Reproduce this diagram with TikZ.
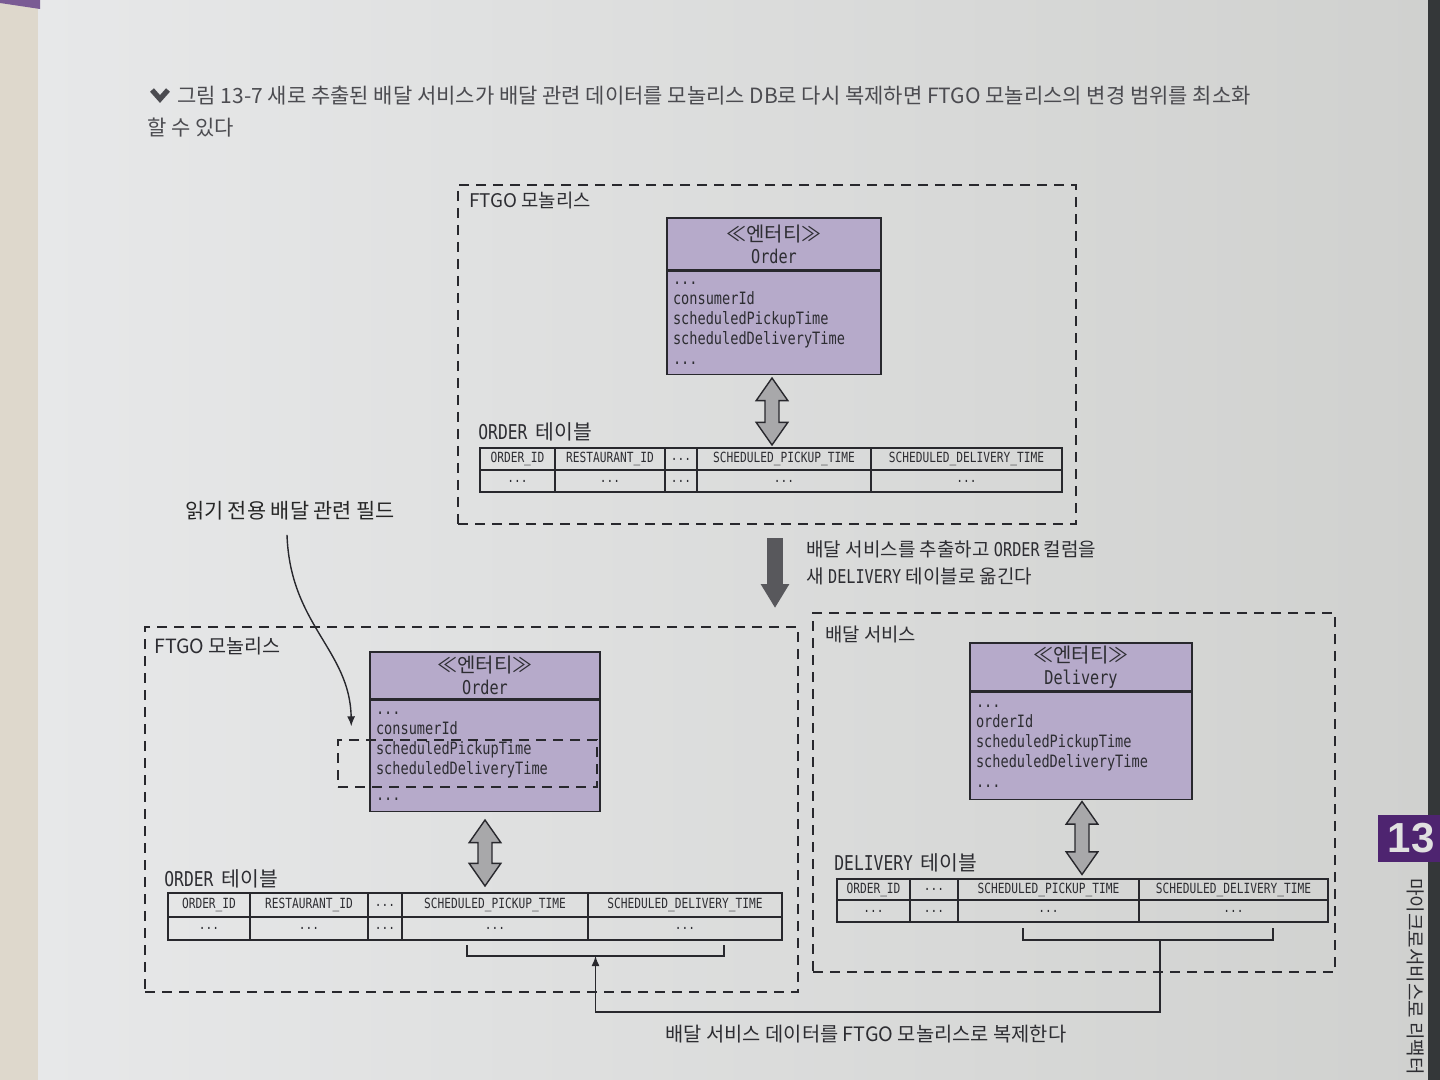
\documentclass[tikz,border=0pt]{standalone}
\usepackage{fontspec}
\setmainfont{Noto Sans CJK KR}
\newfontfamily\monofont[FakeStretch=0.8]{DejaVu Sans Mono}
\newfontfamily\tabfont{Liberation Sans}
\usetikzlibrary{arrows.meta,shapes.arrows,calc}

\newcommand{\tdots}{...}

\definecolor{pageL}{RGB}{231,232,233}
\definecolor{pageR}{RGB}{208,209,207}
\definecolor{edgeL}{RGB}{222,216,204}
\definecolor{edgeR}{RGB}{52,55,57}
\definecolor{linec}{RGB}{40,40,45}
\definecolor{txtc}{RGB}{45,45,50}
\definecolor{captc}{RGB}{75,75,80}
\definecolor{clsfill}{RGB}{182,170,202}
\definecolor{arrfill}{RGB}{168,168,170}
\definecolor{arrdark}{RGB}{88,88,92}
\definecolor{tabpurple}{RGB}{78,36,112}

\tikzset{
  monobox/.style={draw=linec, line width=0.7pt, dash pattern=on 5pt off 3.5pt, inner sep=0pt},
  clshd/.style={draw=linec, fill=clsfill, line width=0.8pt, align=center, inner sep=0pt, text=txtc},
  clsat/.style={draw=linec, fill=clsfill, line width=0.8pt, align=left, inner xsep=3pt, inner ysep=0pt,
    text=txtc, font=\monofont\fontsize{8.5}{10}\selectfont},
  colhd/.style={draw=linec, line width=0.7pt, inner sep=0pt, text=txtc,
    font=\monofont\fontsize{7}{8}\selectfont},
  lbl/.style={text=txtc, inner sep=0pt, font=\fontsize{9.4}{11}\selectfont},
  tlbl/.style={text=txtc, inner sep=0pt, anchor=west, font=\fontsize{10.2}{12}\selectfont},
  capt/.style={text=captc, inner sep=0pt, font=\fontsize{10.5}{12}\selectfont},
  dblarr/.style={double arrow, draw=linec, fill=arrfill, line width=0.7pt, rotate=90, inner sep=0pt,
    double arrow head extend=4.4pt, double arrow tip angle=70, minimum height=#1},
  conn/.style={draw=linec, line width=0.7pt}
}

\begin{document}
\begin{tikzpicture}[x=0.5pt, y=-0.5pt]
  \useasboundingbox (0,0) rectangle (1440,1080);
  % 背景
  \shade[left color=pageL, right color=pageR] (38,0) rectangle (1428,1080);
  \fill[edgeL] (0,0) rectangle (38,1080);
  \fill[tabpurple!75] (0,0) -- (40,0) -- (40,9) -- (0,3) -- cycle;
  \fill[edgeR] (1428,0) rectangle (1440,1080);

  % キャプション
  \draw[captc, line width=2.6pt] (152,90) -- (160,99) -- (168,90);
  \node[capt, anchor=west] (cap1) at (177,96) {그림 13-7 새로 추출된 배달 서비스가 배달 관련 데이터를 모놀리스 DB로 다시 복제하면 FTGO 모놀리스의 변경 범위를 최소화};
  \node[capt, anchor=west] (cap2) at (147,128) {할 수 있다};

  % 上の FTGO モノリス
  \node[monobox, minimum width=309pt, minimum height=169.5pt] (monoA) at (767,354.5) {};
  \node[lbl, anchor=west] (lblA) at (469,200) {FTGO 모놀리스};
  \node[clshd, minimum width=107pt, minimum height=26pt] (hdA) at (774,244)
    {≪엔터티≫\\[-1pt]{\monofont\fontsize{9.5}{11}\selectfont Order}};
  \node[clsat, anchor=north, text width=101pt, minimum height=51.5pt] (atA) at (hdA.south)
    {...\\consumerId\\scheduledPickupTime\\scheduledDeliveryTime\\...};
  \node[dblarr=33.5pt] (daA) at (772,411.5) {\rule{0pt}{6.3pt}};
  \node[tlbl] (tlA) at (478,432) {{\monofont ORDER}\, 테이블};
  \foreach \a/\b/\lab [count=\i] in {480/555/ORDER\_ID, 555/665/RESTAURANT\_ID, 665/697/\tdots, 697/871/SCHEDULED\_PICKUP\_TIME, 871/1062/SCHEDULED\_DELIVERY\_TIME} {
    \node[colhd, minimum width={(\b-\a)*0.5pt}, minimum height=11pt] (tA-h\i) at ({(\a+\b)/2},459) {\lab};
    \node[colhd, minimum width={(\b-\a)*0.5pt}, minimum height=11pt] (tA-b\i) at ({(\a+\b)/2},481) {\tdots};
  }

  % 下向きの矢印
  \coordinate (dnA) at (775,538);
  \coordinate (dnB) at (775,608);
  \draw[arrdark, line width=8pt, -{Triangle[length=12pt, width=13.5pt]}] (dnA) -- (dnB);
  \node[lbl, anchor=west, align=left, font=\fontsize{9.5}{13.5}\selectfont] (mvtxt) at (806,563)
    {배달 서비스를 추출하고 {\monofont ORDER} 컬럼을\\새 {\monofont DELIVERY} 테이블로 옮긴다};

  % 下の FTGO モノリス
  \node[monobox, minimum width=326.5pt, minimum height=182.5pt] (monoB) at (471.5,809.5) {};
  \node[lbl, anchor=west, font=\fontsize{9.8}{11}\selectfont] (lblB) at (154,646) {FTGO 모놀리스};
  \node[clshd, minimum width=115pt, minimum height=23.5pt] (hdB) at (485,675.5)
    {≪엔터티≫\\[-1pt]{\monofont\fontsize{9.5}{11}\selectfont Order}};
  \node[clsat, anchor=north, text width=109pt, minimum height=55.5pt] (atB) at (hdB.south)
    {...\\consumerId\\scheduledPickupTime\\scheduledDeliveryTime\\[3pt]...};
  \node[monobox, minimum width=129.5pt, minimum height=23.5pt] (rof) at (467.5,763.5) {};
  \node[dblarr=33pt] (daB) at (485,853) {\rule{0pt}{6.3pt}};
  \node[tlbl] (tlB) at (164,879) {{\monofont ORDER}\, 테이블};
  \foreach \a/\b/\lab [count=\i] in {168/250/ORDER\_ID, 250/368/RESTAURANT\_ID, 368/402/\tdots, 402/588/SCHEDULED\_PICKUP\_TIME, 588/782/SCHEDULED\_DELIVERY\_TIME} {
    \node[colhd, minimum width={(\b-\a)*0.5pt}, minimum height=12pt] (tB-h\i) at ({(\a+\b)/2},905) {\lab};
    \node[colhd, minimum width={(\b-\a)*0.5pt}, minimum height=11.5pt] (tB-b\i) at ({(\a+\b)/2},928.5) {\tdots};
  }

  % 配達サービス
  \node[monobox, minimum width=261pt, minimum height=179.5pt] (svcC) at (1074,792.5) {};
  \node[lbl, anchor=west] (lblC) at (825,634) {배달 서비스};
  \node[clshd, minimum width=111pt, minimum height=24pt] (hdC) at (1081,667)
    {≪엔터티≫\\[-1pt]{\monofont\fontsize{9.5}{11}\selectfont Delivery}};
  \node[clsat, anchor=north, text width=105pt, minimum height=53.5pt] (atC) at (hdC.south)
    {...\\orderId\\scheduledPickupTime\\scheduledDeliveryTime\\...};
  \node[dblarr=36.5pt] (daC) at (1082,838) {\rule{0pt}{6.3pt}};
  \node[tlbl] (tlC) at (834,863) {{\monofont DELIVERY}\, 테이블};
  \foreach \a/\b/\lab [count=\i] in {837/910/ORDER\_ID, 910/958/\tdots, 958/1139/SCHEDULED\_PICKUP\_TIME, 1139/1328/SCHEDULED\_DELIVERY\_TIME} {
    \node[colhd, minimum width={(\b-\a)*0.5pt}, minimum height=10.5pt] (tC-h\i) at ({(\a+\b)/2},889.5) {\lab};
    \node[colhd, minimum width={(\b-\a)*0.5pt}, minimum height=11pt] (tC-b\i) at ({(\a+\b)/2},911) {\tdots};
  }

  % 読み取り専用フィールドへの矢印
  \node[lbl, text=black!85, font=\fontsize{10.4}{12}\selectfont] (rdlbl) at (290,511) {읽기 전용 배달 관련 필드};
  \draw[conn, -{Latex[length=5pt, width=4pt]}] ($(rdlbl.south)+(-3,14)$)
    .. controls (290,625) and (350,650) .. ($(rof.north west)+(14,-13)$);

  % 複製の矢印
  \coordinate (brB1) at (467,945);
  \coordinate (brB2) at (724,945);
  \coordinate (brBm) at (595.5,956);
  \coordinate (brC1) at (1023,928);
  \coordinate (brC2) at (1273,928);
  \coordinate (brCm) at (1160,940);
  \coordinate (repl) at (1160,1012);
  \draw[conn] (brB1) -- ++(0,11) -| (brB2);
  \draw[conn] (brC1) -- ++(0,12) -| (brC2);
  \draw[conn, -{Latex[length=5pt, width=4pt]}] (brCm) -- (repl) -| (brBm);
  \node[lbl, font=\fontsize{9.9}{12}\selectfont] (repltxt) at (866,1034) {배달 서비스 데이터를 FTGO 모놀리스로 복제한다};

  % 章タブ
  \fill[tabpurple] (1378,815) rectangle (1440,862);
  \node[font=\tabfont\bfseries\fontsize{21}{21}\selectfont, text=black!12, inner sep=0pt] (tabno) at (1411,838.5) {13};
  \node[rotate=-90, anchor=west, inner sep=0pt, text=txtc, font=\fontsize{9.5}{9.5}\selectfont] (side) at (1416,878) {마이크로서비스로 리팩터};
\end{tikzpicture}
\end{document}
